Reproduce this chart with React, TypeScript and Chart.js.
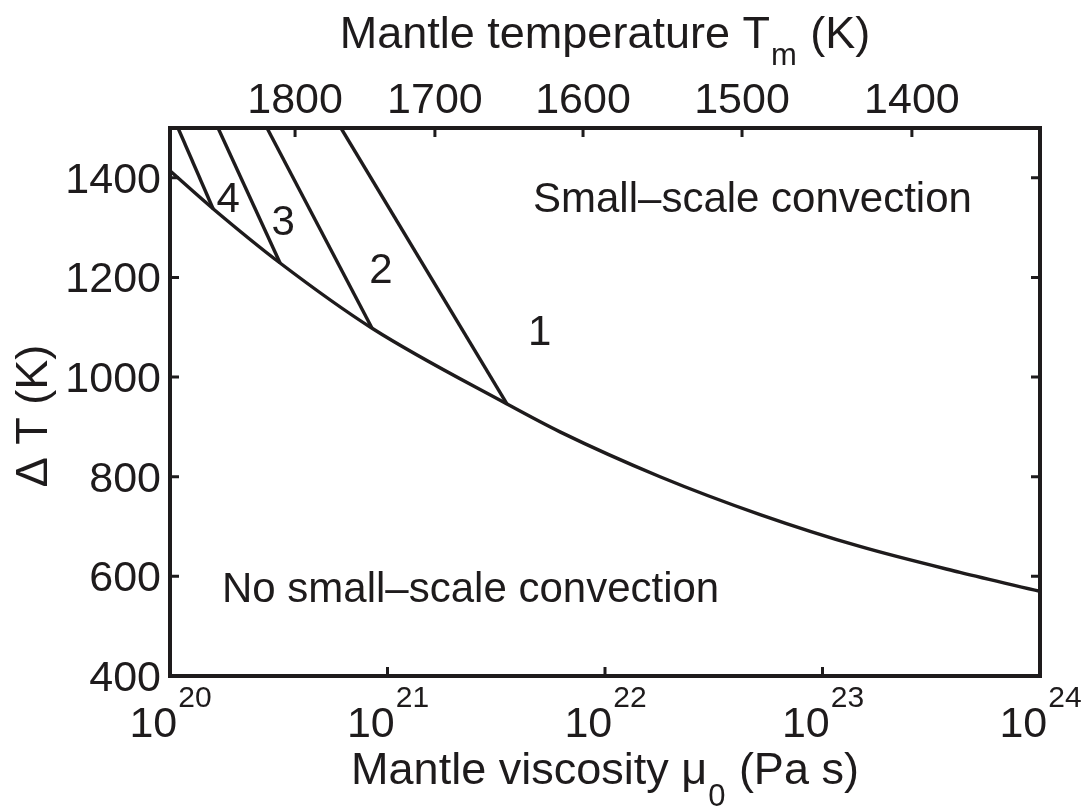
import React, { useEffect, useRef } from "react";
import { Chart, registerables } from "chart.js";

Chart.register(...registerables);

// ---- data (viscosity given as log10 exponent) ----
const viscosityExponents = [20, 21, 22, 23, 24];
const deltaTTicks = [400, 600, 800, 1000, 1200, 1400];
const topTempLabels = [1800, 1700, 1600, 1500, 1400];
const topTempViscExp = [20.575, 21.218, 21.899, 22.63, 23.411];

const boundaryExp = [20.0, 20.198, 20.506, 20.929, 21.549, 21.793, 22.253, 22.713, 23.172, 23.632, 24.0];
const boundaryDeltaT = [1414, 1338, 1229, 1098, 946, 890, 800, 724, 660, 608, 570];

const line1Exp = [20.786, 21.549];
const line1DeltaT = [1500, 946];
const line2Exp = [20.446, 20.929];
const line2DeltaT = [1500, 1098];
const line3Exp = [20.221, 20.506];
const line3DeltaT = [1500, 1229];
const line4Exp = [20.037, 20.198];
const line4DeltaT = [1500, 1338];

const numberLabels = ["4", "3", "2", "1"];
const numberLabelExp = [20.267, 20.52, 20.97, 21.7];
const numberLabelDeltaT = [1361, 1315, 1219, 1094];

const regionLabels = ["Small\u2013scale convection", "No small\u2013scale convection"];
const regionLabelExp = [21.669, 20.239];
const regionLabelDeltaT = [1331, 548];

const toPts = (ex: number[], ys: number[]) => ex.map((e, i) => ({ x: Math.pow(10, e), y: ys[i] }));

const INK = "#1e1b1c";
const FONT = "'Liberation Sans', Arial, Helvetica, sans-serif";

const decorPlugin = {
  id: "decor",
  afterDraw(chart: any) {
    const ctx = chart.ctx as CanvasRenderingContext2D;
    const { left, right, top, bottom } = chart.chartArea;
    const xs = chart.scales.x;
    const ys = chart.scales.y;
    ctx.save();
    ctx.strokeStyle = INK;
    ctx.fillStyle = INK;

    // ticks (inward)
    ctx.lineWidth = 3;
    const tl = 9;
    ctx.beginPath();
    viscosityExponents.forEach((e) => {
      const px = xs.getPixelForValue(Math.pow(10, e));
      ctx.moveTo(px, bottom);
      ctx.lineTo(px, bottom - tl);
    });
    topTempViscExp.forEach((e) => {
      const px = xs.getPixelForValue(Math.pow(10, e));
      ctx.moveTo(px, top);
      ctx.lineTo(px, top + tl);
    });
    deltaTTicks.forEach((v) => {
      const py = ys.getPixelForValue(v);
      ctx.moveTo(left, py);
      ctx.lineTo(left + tl, py);
      ctx.moveTo(right, py);
      ctx.lineTo(right - tl, py);
    });
    ctx.stroke();

    // frame
    ctx.lineWidth = 4;
    ctx.strokeRect(left, top, right - left, bottom - top);

    const tickFont = `43px ${FONT}`;
    const supFont = `30px ${FONT}`;

    // y tick labels
    ctx.font = tickFont;
    ctx.textAlign = "right";
    ctx.textBaseline = "alphabetic";
    deltaTTicks.forEach((v) => {
      const py = ys.getPixelForValue(v);
      ctx.fillText(String(v), left - 9, py + 15);
    });

    // bottom tick labels 10^n
    viscosityExponents.forEach((e) => {
      const px = xs.getPixelForValue(Math.pow(10, e));
      ctx.font = tickFont;
      const w1 = ctx.measureText("10").width;
      ctx.font = supFont;
      const w2 = ctx.measureText(String(e)).width;
      const x0 = px - (w1 + w2) / 2;
      ctx.textAlign = "left";
      ctx.font = tickFont;
      ctx.fillText("10", x0, 737);
      ctx.font = supFont;
      ctx.fillText(String(e), x0 + w1 + 1, 707);
    });

    // top tick labels
    ctx.font = tickFont;
    ctx.textAlign = "center";
    topTempViscExp.forEach((e, i) => {
      const px = xs.getPixelForValue(Math.pow(10, e));
      ctx.fillText(String(topTempLabels[i]), px, 113);
    });

    // titles with subscripts
    const titleFont = `45px ${FONT}`;
    const subFont = `31px ${FONT}`;
    const drawSubTitle = (a: string, sub: string, b: string, cx: number, base: number, subBase: number) => {
      ctx.font = titleFont;
      const wa = ctx.measureText(a).width;
      const wb = ctx.measureText(b).width;
      ctx.font = subFont;
      const ws = ctx.measureText(sub).width;
      const total = wa + ws + wb + 2;
      let x = cx - total / 2;
      ctx.textAlign = "left";
      ctx.font = titleFont;
      ctx.fillText(a, x, base);
      x += wa + 1;
      ctx.font = subFont;
      ctx.fillText(sub, x, subBase);
      x += ws + 1;
      ctx.font = titleFont;
      ctx.fillText(b, x, base);
    };
    const cx = (left + right) / 2;
    drawSubTitle("Mantle temperature T", "m", " (K)", cx, 48, 65);
    drawSubTitle("Mantle viscosity \u03bc", "0", " (Pa s)", cx, 784, 806);

    // y title
    ctx.save();
    ctx.translate(47, (top + bottom) / 2 + 14);
    ctx.rotate(-Math.PI / 2);
    ctx.font = titleFont;
    ctx.textAlign = "center";
    ctx.fillText("\u0394 T (K)", 0, 0);
    ctx.restore();

    // annotations
    ctx.font = `42px ${FONT}`;
    ctx.textAlign = "center";
    numberLabels.forEach((s, i) => {
      const px = xs.getPixelForValue(Math.pow(10, numberLabelExp[i]));
      const py = ys.getPixelForValue(numberLabelDeltaT[i]);
      ctx.fillText(s, px, py + 15);
    });
    ctx.font = `42px ${FONT}`;
    ctx.textAlign = "left";
    regionLabels.forEach((s, i) => {
      const px = xs.getPixelForValue(Math.pow(10, regionLabelExp[i]));
      const py = ys.getPixelForValue(regionLabelDeltaT[i]);
      ctx.fillText(s, px, py);
    });

    ctx.restore();
  },
};

export default function App() {
  const ref = useRef<HTMLCanvasElement | null>(null);
  useEffect(() => {
    if (!ref.current) return;
    const ds = (pts: { x: number; y: number }[], mono: boolean) => ({
      data: pts,
      borderColor: INK,
      borderWidth: 3.4,
      pointRadius: 0,
      fill: false,
      showLine: true,
      cubicInterpolationMode: mono ? "monotone" : "default",
      tension: 0,
    });
    const chart = new Chart(ref.current, {
      type: "scatter",
      data: {
        datasets: [
          ds(toPts(boundaryExp, boundaryDeltaT), true),
          ds(toPts(line1Exp, line1DeltaT), false),
          ds(toPts(line2Exp, line2DeltaT), false),
          ds(toPts(line3Exp, line3DeltaT), false),
          ds(toPts(line4Exp, line4DeltaT), false),
        ] as any,
      },
      options: {
        animation: false,
        responsive: false,
        devicePixelRatio: 1,
        layout: { padding: { left: 170, top: 128, right: 49, bottom: 136 } },
        plugins: { legend: { display: false }, tooltip: { enabled: false } },
        scales: {
          x: { type: "logarithmic", min: 1e20, max: 1e24, display: false },
          y: { type: "linear", min: 400, max: 1500, display: false },
        },
      } as any,
      plugins: [decorPlugin],
    });
    return () => chart.destroy();
  }, []);
  return (
    <div style={{ position: "absolute", left: 0, top: 0, width: 1089, height: 812, background: "#fff" }}>
      <canvas ref={ref} width={1089} height={812} />
    </div>
  );
}
